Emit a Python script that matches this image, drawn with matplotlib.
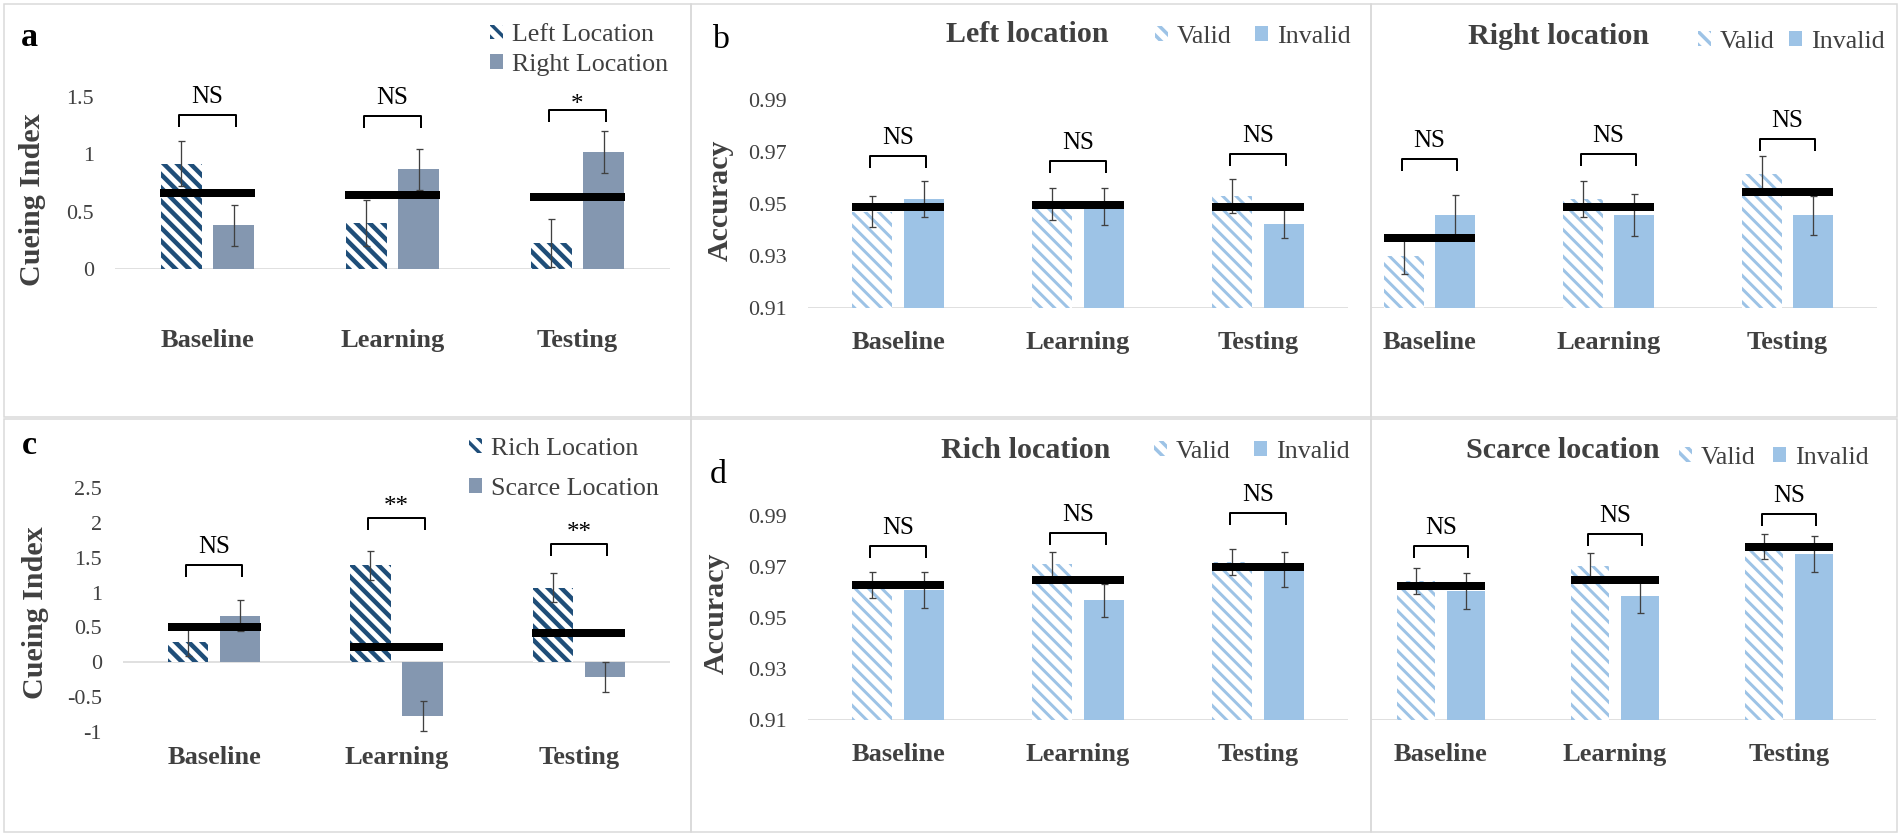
import matplotlib
matplotlib.use("Agg")
import matplotlib.pyplot as plt
from matplotlib.patches import Patch, Rectangle
import numpy as np

DPI = 80
W, H = 1902, 836

plt.rcParams['font.family'] = ['Liberation Serif', 'DejaVu Serif']


def pt(px):
    # pixel size -> points at the output dpi
    return px * 72.0 / DPI


plt.rcParams['hatch.linewidth'] = pt(3.5)
HATCH = '\\\\'

phases = ["Baseline", "Learning", "Testing"]

# panel a: cueing index, left vs right location
a_left = [0.92, 0.40, 0.23]
a_left_err = [0.20, 0.20, 0.21]
a_right = [0.38, 0.87, 1.02]
a_right_err = [0.18, 0.18, 0.18]
a_mean = [0.66, 0.645, 0.63]
a_sig = ["NS", "NS", "*"]
a_sig_y = [1.34, 1.33, 1.39]

# panel b: accuracy, left location
bl_valid = [0.947, 0.950, 0.953]
bl_valid_err = [0.006, 0.006, 0.0065]
bl_invalid = [0.952, 0.949, 0.9425]
bl_invalid_err = [0.007, 0.007, 0.0056]
bl_mean = [0.949, 0.9495, 0.949]
bl_sig_y = [0.9685, 0.9665, 0.9692]

# panel b: accuracy, right location
br_valid = [0.930, 0.952, 0.9614]
br_valid_err = [0.007, 0.007, 0.007]
br_invalid = [0.9456, 0.9458, 0.9456]
br_invalid_err = [0.008, 0.008, 0.0075]
br_mean = [0.937, 0.9487, 0.9545]
br_sig_y = [0.9673, 0.9692, 0.975]

# panel c: cueing index, rich vs scarce location
c_rich = [0.29, 1.39, 1.07]
c_rich_err = [0.20, 0.21, 0.21]
c_scarce = [0.67, -0.77, -0.21]
c_scarce_err = [0.22, 0.21, 0.22]
c_mean = [0.50, 0.215, 0.415]
c_sig = ["NS", "**", "**"]
c_sig_y = [1.39, 2.07, 1.69]

# panel d: accuracy, rich location
dl_valid = [0.963, 0.971, 0.972]
dl_valid_err = [0.005, 0.005, 0.005]
dl_invalid = [0.961, 0.957, 0.969]
dl_invalid_err = [0.007, 0.0065, 0.007]
dl_mean = [0.963, 0.965, 0.970]
dl_sig_y = [0.9782, 0.9833, 0.9912]

# panel d: accuracy, scarce location
dr_valid = [0.9645, 0.9705, 0.978]
dr_valid_err = [0.005, 0.005, 0.005]
dr_invalid = [0.9605, 0.9585, 0.975]
dr_invalid_err = [0.007, 0.0067, 0.007]
dr_mean = [0.9625, 0.965, 0.978]
dr_sig_y = [0.9782, 0.9829, 0.9908]

cue_ticks = {"a": [0, 0.5, 1, 1.5], "c": [-1, -0.5, 0, 0.5, 1, 1.5, 2, 2.5]}
acc_ticks = [0.91, 0.93, 0.95, 0.97, 0.99]

NAVY = '#1F4E79'
GREYBLUE = '#8497B0'
LIGHT = '#9DC3E6'
ERR = '#404040'
AXIS = '#D9D9D9'
TEXT = '#404040'

fig = plt.figure(figsize=(W / DPI, H / DPI), dpi=DPI)
fig.patch.set_facecolor('white')


def add_ax(x0, x1, ytop, ybot):
    ax = fig.add_axes([x0 / W, 1 - ybot / H, (x1 - x0) / W, (ybot - ytop) / H])
    ax.patch.set_visible(False)
    for s in ax.spines.values():
        s.set_visible(False)
    return ax


def fig_text(x, y, s, size, **kw):
    fig.text(x / W, 1 - y / H, s, fontsize=pt(size), ha='center', va='center', **kw)


def draw_panel(ax, first, first_err, second, second_err, mean, sig, sig_y,
               hatch_col, solid_col, hatch_lw, ylim, xlim, base, axis_y,
               ticks, tick_fmt, xpad, sig_off):
    x = np.arange(len(phases))
    ax.set_xlim(*xlim)
    ax.set_ylim(*ylim)
    off, w = 0.143, 0.222
    b1 = ax.bar(x - off, np.array(first) - base, w, bottom=base, facecolor='white',
                edgecolor=hatch_col, hatch=HATCH, linewidth=0, zorder=2)
    for b in b1:
        if hasattr(b, 'set_hatch_linewidth'):
            b.set_hatch_linewidth(pt(hatch_lw))
    ax.bar(x + off, np.array(second) - base, w, bottom=base, color=solid_col,
           linewidth=0, zorder=2)
    ax.errorbar(x - off, first, yerr=first_err, fmt='none', ecolor=ERR,
                elinewidth=pt(1.3), capsize=pt(3.5), capthick=pt(1.3), zorder=4)
    ax.errorbar(x + off, second, yerr=second_err, fmt='none', ecolor=ERR,
                elinewidth=pt(1.3), capsize=pt(3.5), capthick=pt(1.3), zorder=4)
    ax.hlines(mean, x - 0.255, x + 0.255, colors='black', linewidth=pt(8),
              capstyle='butt', zorder=5)
    ax.axhline(axis_y, color=AXIS, lw=pt(1.6), zorder=1)

    # significance brackets
    ax_h = ax.get_position().height * H
    leg = 11 * (ylim[1] - ylim[0]) / ax_h
    for i, (s, y) in enumerate(zip(sig, sig_y)):
        ax.plot([i - 0.155, i - 0.155, i + 0.155, i + 0.155], [y - leg, y, y, y - leg],
                color='black', lw=pt(2), clip_on=False, zorder=6)
        ax.annotate(s, (i, y), xytext=(0, pt(sig_off[s])), textcoords='offset points',
                    ha='center', va='center', fontsize=pt(25), color='black',
                    annotation_clip=False)

    ax.set_xticks(x)
    ax.set_xticklabels(phases, fontsize=pt(26.4), fontweight='bold', color=TEXT)
    ax.tick_params(axis='x', length=0, pad=pt(xpad))
    if ticks:
        ax.set_yticks(ticks)
        ax.set_yticklabels([tick_fmt(t) for t in ticks], fontsize=pt(22), color=TEXT)
        ax.tick_params(axis='y', length=0, pad=pt(21))
    else:
        ax.set_yticks([])


def add_legend(ax, handles, labels, x, y, ncol, colsp, labsp):
    leg = ax.legend(handles, labels, loc='center left',
                    bbox_to_anchor=(x / W, 1 - y / H), bbox_transform=fig.transFigure,
                    ncol=ncol, frameon=False, fontsize=pt(26), handlelength=0.5,
                    handleheight=0.5, handletextpad=0.35, columnspacing=colsp,
                    labelspacing=labsp, borderpad=0, borderaxespad=0)
    for t in leg.get_texts():
        t.set_color(TEXT)


def cue_fmt(t):
    return ('%g' % t)


def acc_fmt(t):
    return '%.2f' % t


sig_off = {"NS": 18, "*": 5, "**": 11}

# panel borders
for x0, x1, y0, y1 in [(4, 691, 4, 417), (691, 1371, 4, 417), (1371, 1897, 4, 417),
                       (4, 691, 419, 832), (691, 1371, 419, 832), (1371, 1897, 419, 832)]:
    fig.add_artist(Rectangle((x0 / W, 1 - y1 / H), (x1 - x0) / W, (y1 - y0) / H,
                             transform=fig.transFigure, fill=False,
                             edgecolor=AXIS, lw=pt(1.5)))

# ---- a ----
ax_a = add_ax(115, 670, 97, 269)
draw_panel(ax_a, a_left, a_left_err, a_right, a_right_err, a_mean, a_sig, a_sig_y,
           NAVY, GREYBLUE, 4.5, (0, 1.5), (-0.5, 2.5), 0, 0,
           cue_ticks["a"], cue_fmt, 60, sig_off)
add_legend(ax_a, [Patch(facecolor='white', edgecolor=NAVY, hatch=HATCH, lw=0),
                  Patch(facecolor=GREYBLUE, lw=0)],
           ["Left Location", "Right Location"], 490, 50, 1, 0.5, 0.29)

# ---- b left ----
ax_bl = add_ax(808, 1348, 100, 308)
draw_panel(ax_bl, bl_valid, bl_valid_err, bl_invalid, bl_invalid_err, bl_mean,
           ["NS"] * 3, bl_sig_y, LIGHT, LIGHT, 3, (0.91, 0.99), (-0.5, 2.5), 0.91, 0.91,
           acc_ticks, acc_fmt, 23, sig_off)
add_legend(ax_bl, [Patch(facecolor='white', edgecolor=LIGHT, hatch=HATCH, lw=0),
                   Patch(facecolor=LIGHT, lw=0)],
           ["Valid", "Invalid"], 1155, 37, 2, 0.88, 0.2)

# ---- b right ----
ax_br = add_ax(1371, 1877, 100, 308)
draw_panel(ax_br, br_valid, br_valid_err, br_invalid, br_invalid_err, br_mean,
           ["NS"] * 3, br_sig_y, LIGHT, LIGHT, 3, (0.91, 0.99), (-0.327, 2.5), 0.91, 0.91,
           None, acc_fmt, 23, sig_off)
add_legend(ax_br, [Patch(facecolor='white', edgecolor=LIGHT, hatch=HATCH, lw=0),
                   Patch(facecolor=LIGHT, lw=0)],
           ["Valid", "Invalid"], 1698, 42, 2, 0.54, 0.2)

# ---- c ----
ax_c = add_ax(123, 670, 488, 732)
draw_panel(ax_c, c_rich, c_rich_err, c_scarce, c_scarce_err, c_mean, c_sig, c_sig_y,
           NAVY, GREYBLUE, 4.5, (-1, 2.5), (-0.5, 2.5), 0, 0,
           cue_ticks["c"], cue_fmt, 14, sig_off)
add_legend(ax_c, [Patch(facecolor='white', edgecolor=NAVY, hatch=HATCH, lw=0),
                  Patch(facecolor=GREYBLUE, lw=0)],
           ["Rich Location", "Scarce Location"], 469, 469, 1, 0.5, 0.69)

# ---- d left ----
ax_dl = add_ax(808, 1348, 516, 720)
draw_panel(ax_dl, dl_valid, dl_valid_err, dl_invalid, dl_invalid_err, dl_mean,
           ["NS"] * 3, dl_sig_y, LIGHT, LIGHT, 3, (0.91, 0.99), (-0.5, 2.5), 0.91, 0.91,
           acc_ticks, acc_fmt, 23, sig_off)
add_legend(ax_dl, [Patch(facecolor='white', edgecolor=LIGHT, hatch=HATCH, lw=0),
                   Patch(facecolor=LIGHT, lw=0)],
           ["Valid", "Invalid"], 1154, 452, 2, 0.88, 0.2)

# ---- d right ----
ax_dr = add_ax(1371, 1876, 516, 720)
draw_panel(ax_dr, dr_valid, dr_valid_err, dr_invalid, dr_invalid_err, dr_mean,
           ["NS"] * 3, dr_sig_y, LIGHT, LIGHT, 3, (0.91, 0.99), (-0.402, 2.5), 0.91, 0.91,
           None, acc_fmt, 23, sig_off)
add_legend(ax_dr, [Patch(facecolor='white', edgecolor=LIGHT, hatch=HATCH, lw=0),
                   Patch(facecolor=LIGHT, lw=0)],
           ["Valid", "Invalid"], 1679, 458, 2, 0.65, 0.2)

# panel letters, titles, y labels
fig_text(29, 37, 'a', 34, fontweight='bold', color='black')
fig_text(720, 40, 'b', 34, color='black')
fig_text(29, 445, 'c', 34, fontweight='bold', color='black')
fig_text(718, 475, 'd', 34, color='black')

fig_text(1027, 35, 'Left location', 30, fontweight='bold', color=TEXT)
fig_text(1559, 36, 'Right location', 30, fontweight='bold', color=TEXT)
fig_text(1026, 450, 'Rich location', 30, fontweight='bold', color=TEXT)
fig_text(1563, 450, 'Scarce location', 30, fontweight='bold', color=TEXT)

fig_text(33, 200, 'Cueing Index', 30, fontweight='bold', color=TEXT, rotation=90)
fig_text(36, 613, 'Cueing Index', 30, fontweight='bold', color=TEXT, rotation=90)
fig_text(720, 200, 'Accuracy', 30, fontweight='bold', color=TEXT, rotation=90)
fig_text(716, 613, 'Accuracy', 30, fontweight='bold', color=TEXT, rotation=90)

fig.savefig('out.png', dpi=DPI, facecolor='white')
